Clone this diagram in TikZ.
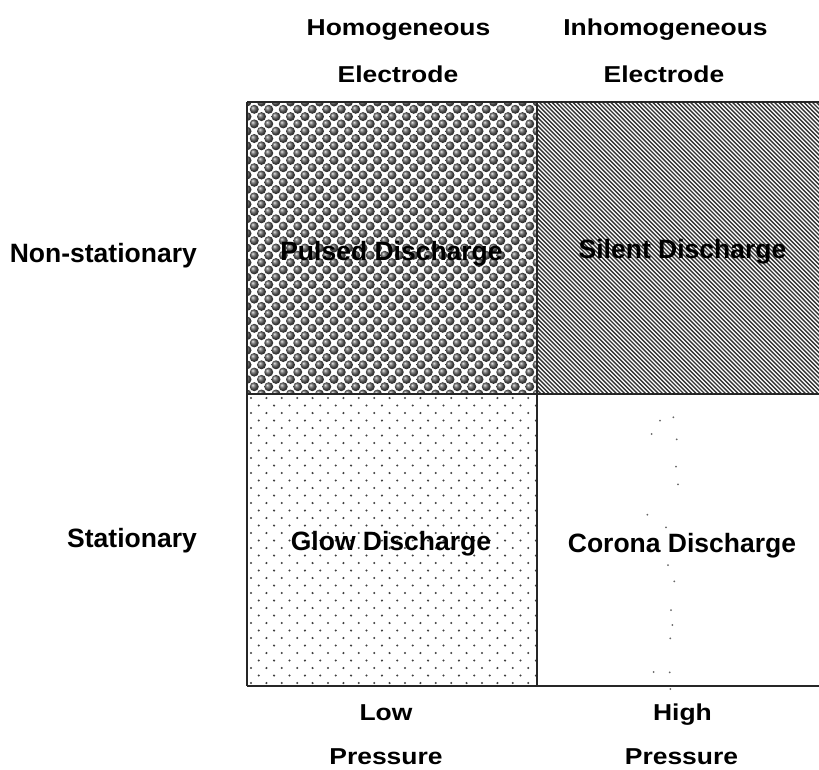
\documentclass[tikz,border=0pt]{standalone}
\usepackage{fontspec}
\setmainfont{Liberation Sans}
\newfontfamily\widefont{Liberation Sans}[FakeStretch=1.15]
\tikzset{
  cell/.style={font=\fontsize{26.5}{30}\selectfont\bfseries, inner sep=0pt, anchor=base},
  axl/.style={font=\widefont\fontsize{23}{27}\selectfont\bfseries, inner sep=0pt, anchor=base},
  sidel/.style={font=\fontsize{26.5}{30}\selectfont\bfseries, inner sep=0pt, anchor=base east},
  gridline/.style={line width=2pt, draw=black!85},
  hatchline/.style={line width=1.4pt, draw=black!80},
  dotfill/.style={fill=black!75},
}
\begin{document}
\begin{tikzpicture}[x=1pt,y=-1pt]
\fill[white] (0,0) rectangle (819,769);
\useasboundingbox (0,0) rectangle (819,769);
\coordinate (tl) at (247,102);
\coordinate (tm) at (537,102);
\coordinate (tr) at (819,102);
\coordinate (ml) at (247,394);
\coordinate (mm) at (537,394);
\coordinate (mr) at (819,394);
\coordinate (bl) at (247,686);
\coordinate (bm) at (537,686);
\coordinate (br) at (819,686);
% spheres (pulsed)
\begin{scope}
\clip (tl) rectangle (mm);
\foreach \r in {0,...,41} {
  \pgfmathsetmacro\yy{102+\r*7.3}
  \pgfmathsetmacro\off{mod(\r,2)*7.25}
  \foreach \c in {0,...,20} {
    \shade[ball color=black!62, shift={(247+\off+\c*14.5,\yy)}, yscale=-1] (0,0) circle (4.5);
  }
}
\end{scope}
% hatch (silent)
\begin{scope}
\clip (tm) rectangle (mr);
\foreach \i in {-72,...,68} {
  \draw[hatchline] (537+\i*4.2,100) -- ++(300,300);
}
\end{scope}
% dots (glow)
\begin{scope}
\clip (ml) rectangle (bm);
\foreach \r in {0,...,39} {
  \pgfmathsetmacro\yy{398+\r*7.5}
  \pgfmathsetmacro\off{mod(\r,2)*7.7}
  \foreach \c in {0,...,19} {
    \fill[dotfill] (251+\off+\c*15.4,\yy) circle (1.15);
  }
}
\end{scope}
% stray dots (corona)
\foreach \p in {(660,420.7),(673.3,417.3),(651.7,434),(676.7,439.3),(676,466.7),(678,484.3),(647.3,514.7),(666,527.3),(668,565),(674.3,581.3),(671,610),(672.3,625),(670.3,638.3),(653.7,672),(669.7,672.3),(670.3,689)}
  \fill[black!60] \p circle (1.0);
% grid
\draw[gridline] (tl) -- (tr);
\draw[gridline] (ml) -- (mr);
\draw[gridline] (bl) -- (br);
\draw[gridline] (tl) -- (bl);
\draw[gridline] (tm) -- (bm);
% cell labels
\node[cell] (pulsed) at (391.5,260) {Pulsed Discharge};
\node[cell] (silent) at (682.5,258) {Silent Discharge};
\node[cell] (glow) at (391,550) {Glow Discharge};
\node[cell] (corona) at (682,552) {Corona Discharge};
% side labels
\node[sidel] (nonst) at (197,262) {Non-stationary};
\node[sidel] (stat) at (197,547) {Stationary};
% top labels
\node[axl] (homo) at (398.5,35) {Homogeneous};
\node[axl] (inhomo) at (665.5,35) {Inhomogeneous};
\node[axl] (el1) at (398,82) {Electrode};
\node[axl] (el2) at (664,82) {Electrode};
% bottom labels
\node[axl] (low) at (386,720) {Low};
\node[axl] (high) at (682.5,720) {High};
\node[axl] (pr1) at (386,764) {Pressure};
\node[axl] (pr2) at (681.5,764) {Pressure};
\end{tikzpicture}
\end{document}
